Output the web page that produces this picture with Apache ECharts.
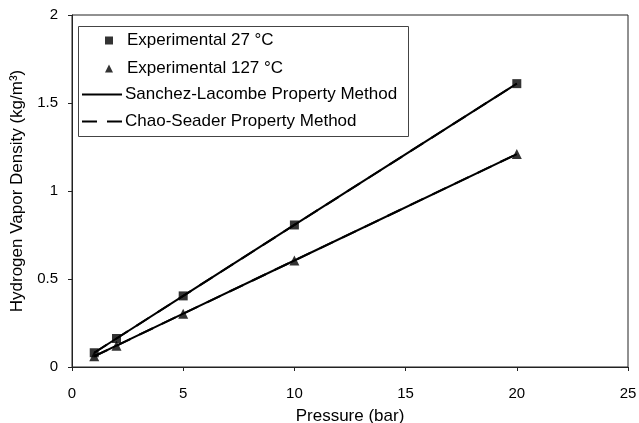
<!DOCTYPE html>
<html>
<head>
<meta charset="utf-8">
<script src="https://cdn.jsdelivr.net/npm/echarts@6/dist/echarts.min.js"></script>
<style>html,body{margin:0;padding:0;background:#fff}#c{width:639px;height:423px}</style>
</head>
<body>
<div id="c"></div>
<script>
var pressure = [1, 2, 5, 10, 20];
var exp27 = [0.081, 0.162, 0.404, 0.807, 1.61];
var exp127 = [0.061, 0.121, 0.303, 0.605, 1.21];
var sl27 = [0.081, 0.162, 0.404, 0.807, 1.61];
var sl127 = [0.061, 0.121, 0.303, 0.605, 1.21];
var cs27 = [0.081, 0.162, 0.404, 0.807, 1.61];
var cs127 = [0.061, 0.121, 0.303, 0.605, 1.21];
var names = ['Experimental 27 °C', 'Experimental 127 °C', 'Sanchez-Lacombe Property Method', 'Chao-Seader Property Method'];

function pairs(xs, ys) { return xs.map(function (x, i) { return [x, ys[i]]; }); }

var font = 'Liberation Sans, Arial, sans-serif';
var chart = echarts.init(document.getElementById('c'), null, {renderer: 'canvas'});
chart.setOption({
  animation: false,
  backgroundColor: '#fff',
  textStyle: {fontFamily: font, color: '#000'},
  grid: {left: 72, right: 11, top: 15, bottom: 56, containLabel: false, outerBoundsMode: 'none',
    show: true, borderColor: '#222', borderWidth: 1, backgroundColor: 'transparent'},
  graphic: [{
    type: 'rect', left: 78, top: 26, z: 5,
    shape: {width: 330, height: 110},
    style: {fill: '#fff', stroke: '#444', lineWidth: 1}
  }],
  legend: [{
    orient: 'vertical', left: 100, top: 27, itemWidth: 8, itemHeight: 8, itemGap: 11, z: 10,
    data: [{name: names[0], icon: 'rect'}, {name: names[1], icon: 'triangle'}],
    textStyle: {fontFamily: font, fontSize: 17, color: '#000', padding: [0, 0, 0, 9]}
  }, {
    orient: 'vertical', left: 76, top: 81, itemWidth: 40, itemHeight: 14, itemGap: 10, z: 10,
    itemStyle: {opacity: 0},
    data: [names[2], names[3]],
    textStyle: {fontFamily: font, fontSize: 17, color: '#000', padding: [0, 0, 0, -2]}
  }],
  xAxis: {
    type: 'value', min: 0, max: 25, interval: 5,
    name: 'Pressure (bar)', nameLocation: 'middle', nameGap: 41,
    nameTextStyle: {fontFamily: font, fontSize: 17, color: '#000'},
    axisLine: {show: true, lineStyle: {color: '#222', width: 1}},
    axisTick: {show: true, length: 4, lineStyle: {color: '#222'}},
    axisLabel: {fontFamily: font, fontSize: 15, color: '#000', margin: 19},
    splitLine: {show: false}
  },
  yAxis: {
    type: 'value', min: 0, max: 2, interval: 0.5,
    name: 'Hydrogen Vapor Density (kg/m³)', nameLocation: 'middle', nameGap: 45,
    nameTextStyle: {fontFamily: font, fontSize: 17, color: '#000'},
    axisLine: {show: true, lineStyle: {color: '#222', width: 1}},
    axisTick: {show: true, length: 4, lineStyle: {color: '#222'}},
    axisLabel: {fontFamily: font, fontSize: 15, color: '#000', margin: 14},
    splitLine: {show: false}
  },
  series: [
    {name: names[2], type: 'line', data: pairs(pressure, sl27), symbol: 'none', lineStyle: {color: '#000', width: 2}, itemStyle: {color: '#000'}, z: 2},
    {name: names[2], type: 'line', data: pairs(pressure, sl127), symbol: 'none', lineStyle: {color: '#000', width: 2}, itemStyle: {color: '#000'}, z: 2},
    {name: names[3], type: 'line', data: pairs(pressure, cs27), symbol: 'none', lineStyle: {color: '#000', width: 2, type: [15, 10]}, itemStyle: {color: '#000'}, z: 1},
    {name: names[3], type: 'line', data: pairs(pressure, cs127), symbol: 'none', lineStyle: {color: '#000', width: 2, type: [15, 10]}, itemStyle: {color: '#000'}, z: 1},
    {name: names[0], type: 'scatter', data: pairs(pressure, exp27), symbol: 'rect', symbolSize: 9, itemStyle: {color: '#000'}, z: 3},
    {name: names[1], type: 'scatter', data: pairs(pressure, exp127), symbol: 'triangle', symbolSize: 10, itemStyle: {color: '#000'}, z: 3}
  ]
});
</script>
</body>
</html>
